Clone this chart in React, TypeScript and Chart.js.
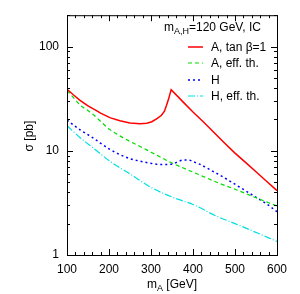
import React, { useEffect, useRef } from "react";
import { Chart, registerables } from "chart.js";
Chart.register(...registerables);

const mA = [100, 115, 131, 150, 165, 180, 202, 226, 250, 274, 290, 302, 315, 325, 332, 337, 342, 345, 348, 375, 400, 425, 450, 475, 500, 525, 550, 575, 600];
const sigmaA = [39, 34.5, 30.5, 27, 25, 23, 20.8, 19.4, 18.5, 18.2, 18.4, 19.0, 20.5, 21.9, 24, 27.3, 31.5, 35, 38.5, 29.8, 23.6, 18.9, 15.0, 11.9, 9.5, 7.75, 6.3, 5.1, 4.15];

const mAeff = [100, 115, 131, 150, 163, 179, 200, 226, 250, 274, 300, 349, 412, 464, 500, 550, 600];
const sigmaAeff = [38, 32.5, 27.5, 24.3, 22.2, 19.3, 16.2, 13.9, 12.3, 11.0, 9.7, 7.67, 5.96, 4.85, 4.28, 3.54, 2.95];

const mH = [100, 130, 163, 202, 250, 274, 298, 321, 340, 353, 365, 377, 390, 401, 417, 440, 467, 512, 552, 575, 600];
const sigmaH = [19.7, 16, 13.2, 10.3, 8.4, 7.95, 7.6, 7.4, 7.4, 7.5, 7.9, 8.15, 8.15, 7.84, 7.4, 6.6, 5.74, 4.46, 3.54, 3.1, 2.6];

const mHeff = [100, 130, 163, 202, 250, 298, 350, 400, 456, 500, 536, 600];
const sigmaHeff = [17.4, 13.5, 10.6, 7.95, 6.0, 4.5, 3.6, 3.05, 2.36, 2.0, 1.74, 1.35];

const legendLabels = ["A, tan β=1", "A, eff. th.", "H", "H, eff. th."];
const xTicks = [100, 200, 300, 400, 500, 600];
const xMinorStep = 20;
const yTicks = [1, 10, 100];

const colors = ["#ff0000", "#00dd00", "#0000ff", "#00e0e0"];
const dashes = [[], [4, 3], [2, 3], [7, 2, 1, 2]];
const widths = [1.5, 1.2, 1.5, 1.2];

const FONT = "'Liberation Sans', Arial, sans-serif";

export default function App() {
  const ref = useRef<HTMLCanvasElement>(null);
  useEffect(() => {
    const series = [
      [mA, sigmaA],
      [mAeff, sigmaAeff],
      [mH, sigmaH],
      [mHeff, sigmaHeff],
    ];
    const decor = {
      id: "decor",
      afterDatasetsDraw(chart: any) {
        const ctx = chart.ctx;
        const { left, right, top, bottom } = chart.chartArea;
        const xs = chart.scales.x;
        const ys = chart.scales.y;
        ctx.save();
        ctx.strokeStyle = "#000";
        ctx.lineWidth = 1;
        ctx.setLineDash([]);
        ctx.strokeRect(left + 0.5, top + 0.5, right - left, bottom - top);
        ctx.beginPath();
        for (let v = 100; v <= 600; v += xMinorStep) {
          const px = Math.round(xs.getPixelForValue(v)) + 0.5;
          const len = v % 100 === 0 ? 6 : 3;
          ctx.moveTo(px, bottom);
          ctx.lineTo(px, bottom - len);
          ctx.moveTo(px, top);
          ctx.lineTo(px, top + len);
        }
        for (let d = 1; d <= 100; d *= 10) {
          for (let k = 1; k <= 9; k++) {
            const v = d * k;
            if (v > ys.max) break;
            const py = Math.round(ys.getPixelForValue(v)) + 0.5;
            const len = k === 1 ? 6 : 3;
            ctx.moveTo(left, py);
            ctx.lineTo(left + len, py);
            ctx.moveTo(right, py);
            ctx.lineTo(right - len, py);
          }
        }
        ctx.stroke();

        // annotation
        ctx.fillStyle = "#000";
        ctx.textBaseline = "alphabetic";
        ctx.textAlign = "left";
        let x = 164;
        const y0 = 31;
        ctx.font = `12px ${FONT}`;
        ctx.fillText("m", x, y0);
        x += ctx.measureText("m").width;
        ctx.font = `9px ${FONT}`;
        ctx.fillText("A,H", x, y0 + 3);
        x += ctx.measureText("A,H").width;
        ctx.font = `12px ${FONT}`;
        ctx.fillText("=120 GeV, IC", x, y0);

        // legend
        const rows = [47, 63, 80, 96];
        for (let i = 0; i < 4; i++) {
          ctx.strokeStyle = colors[i];
          ctx.lineWidth = widths[i];
          ctx.setLineDash(dashes[i]);
          ctx.beginPath();
          ctx.moveTo(188, rows[i]);
          ctx.lineTo(203, rows[i]);
          ctx.stroke();
          ctx.setLineDash([]);
          ctx.fillStyle = "#000";
          ctx.font = `12px ${FONT}`;
          ctx.textBaseline = "middle";
          ctx.fillText(legendLabels[i], 211, rows[i] + 1);
        }

        // x title
        ctx.textBaseline = "alphabetic";
        ctx.font = `12px ${FONT}`;
        const mW = ctx.measureText("m").width;
        ctx.font = `9px ${FONT}`;
        const aW = ctx.measureText("A").width;
        ctx.font = `12px ${FONT}`;
        const rest = " [GeV]";
        const rW = ctx.measureText(rest).width;
        let tx = (left + right) / 2 - (mW + aW + rW) / 2;
        const ty = 288;
        ctx.fillText("m", tx, ty);
        tx += mW;
        ctx.font = `9px ${FONT}`;
        ctx.fillText("A", tx, ty + 3);
        tx += aW;
        ctx.font = `12px ${FONT}`;
        ctx.fillText(rest, tx, ty);

        // y title
        ctx.translate(33, 136);
        ctx.rotate(-Math.PI / 2);
        ctx.textAlign = "center";
        ctx.fillText("σ [pb]", 0, 0);
        ctx.restore();
      },
    };
    const chart = new Chart(ref.current!, {
      type: "line",
      data: {
        datasets: series.map((s, i) => ({
          label: legendLabels[i],
          data: (s[0] as number[]).map((xv, j) => ({ x: xv, y: (s[1] as number[])[j] })),
          borderColor: colors[i],
          borderWidth: widths[i],
          borderDash: dashes[i],
          pointRadius: 0,
          ...(i === 0 ? { tension: 0 } : { cubicInterpolationMode: "monotone" }),
          fill: false,
        })),
      },
      options: {
        animation: false,
        responsive: false,
        maintainAspectRatio: false,
        layout: { padding: { left: 0, top: 12, right: 23, bottom: 0 } },
        plugins: { legend: { display: false }, tooltip: { enabled: false } },
        scales: {
          x: {
            type: "linear",
            min: 100,
            max: 600,
            grid: { display: false, drawTicks: false },
            border: { display: false },
            afterBuildTicks: (s: any) => {
              s.ticks = xTicks.map((v) => ({ value: v }));
            },
            afterFit: (s: any) => {
              s.height = 39;
            },
            ticks: {
              color: "#000",
              font: { family: FONT, size: 12 },
              padding: 7,
              maxRotation: 0,
              callback: (v: any) => String(v),
            },
          },
          y: {
            type: "logarithmic",
            min: 1,
            max: 200,
            grid: { display: false, drawTicks: false },
            border: { display: false },
            afterBuildTicks: (s: any) => {
              s.ticks = yTicks.map((v) => ({ value: v }));
            },
            afterFit: (s: any) => {
              s.width = 67;
            },
            ticks: {
              color: "#000",
              font: { family: FONT, size: 12 },
              padding: 8,
              callback: (v: any) => String(v),
            },
          },
        },
      },
      plugins: [decor],
    } as any);
    return () => chart.destroy();
  }, []);
  return (
    <div style={{ position: "fixed", left: 0, top: 0, width: 300, height: 294, background: "#fff" }}>
      <canvas ref={ref} width={300} height={294} style={{ width: 300, height: 294 }} />
    </div>
  );
}
